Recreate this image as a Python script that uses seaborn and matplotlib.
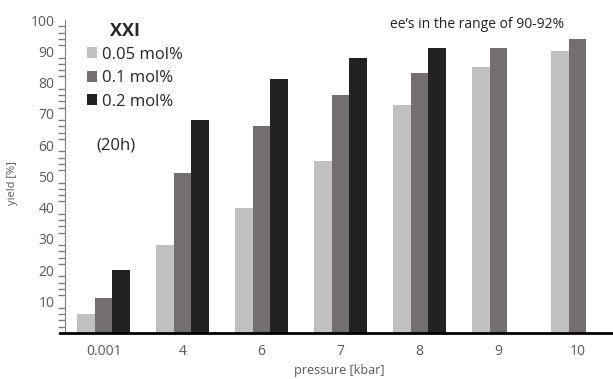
import pandas as pd
import numpy as np
import matplotlib
matplotlib.use("Agg")
import matplotlib.pyplot as plt
import seaborn as sns
from matplotlib.ticker import MultipleLocator
from matplotlib.patches import Patch

# Data
pressures = ["0.001", "4", "6", "7", "8", "9", "10"]
loadings = ["0.05 mol%", "0.1 mol%", "0.2 mol%"]
yield_005 = [6, 28, 40, 55, 73, 85, 90]
yield_01 = [11, 51, 66, 76, 83, 91, 94]
yield_02 = [20, 68, 81, 88, 91, np.nan, np.nan]
bar_colors = ["#c0c0c0", "#746e6e", "#222222"]

rows = []
for lab, vals in zip(loadings, [yield_005, yield_01, yield_02]):
    for p, v in zip(pressures, vals):
        rows.append({"pressure": p, "loading": lab, "yield": v})
df = pd.DataFrame(rows)

sns.set_style("white")
plt.rcParams["font.family"] = ["Open Sans", "DejaVu Sans"]

fig = plt.figure(figsize=(6.13, 3.79), dpi=100)
ax = fig.add_axes([0.106, 0.122, 0.894, 0.825])

sns.barplot(data=df, x="pressure", y="yield", hue="loading", order=pressures,
            hue_order=loadings, palette=bar_colors, width=0.67, saturation=1,
            edgecolor="none", ax=ax, legend=False)

ax.set_xlim(-0.49, 6.45)
ax.set_ylim(0, 100)
ax.yaxis.set_minor_locator(MultipleLocator(2))
ax.set_yticks(range(10, 101, 10))
ax.tick_params(axis="y", which="major", direction="inout", length=9, width=1,
               color="#7f7f7f", labelsize=10, labelcolor="#595959", pad=3)
ax.tick_params(axis="y", which="minor", direction="out", length=5, width=1,
               color="#7f7f7f", left=True)
ax.tick_params(axis="x", length=0, labelsize=10, labelcolor="#595959", pad=8)

for s in ["top", "right"]:
    ax.spines[s].set_visible(False)
ax.spines["left"].set_color("#7f7f7f")
ax.spines["bottom"].set_color("black")
ax.spines["bottom"].set_linewidth(2)
ax.spines["bottom"].set_bounds(-0.55, 6.5)
ax.spines["bottom"].set_clip_on(False)

ax.set_xlabel("pressure [kbar]", fontsize=9, color="#595959", labelpad=4)
ax.set_ylabel("yield [%]", fontsize=8, color="#595959")
ax.yaxis.set_label_coords(-0.085, 0.48)

handles = [Patch(facecolor=c, edgecolor="none") for c in bar_colors]
ax.legend(handles, loadings, loc="upper left", bbox_to_anchor=(0.04, 0.915),
          frameon=False, fontsize=12, handlelength=0.6, handleheight=0.6,
          handletextpad=0.3, labelspacing=0.45, borderpad=0, borderaxespad=0)

ax.text(0.082, 0.995, "XXI", transform=ax.transAxes, fontsize=13,
        fontweight="bold", ha="left", va="top")
ax.text(0.058, 0.60, "(20h)", transform=ax.transAxes, fontsize=12,
        ha="left", va="center")
ax.text(0.752, 0.985, "ee\u2019s in the range of 90-92%", transform=ax.transAxes,
        fontsize=10, ha="center", va="center", color="#222222")

fig.savefig("out.png", dpi=100)
